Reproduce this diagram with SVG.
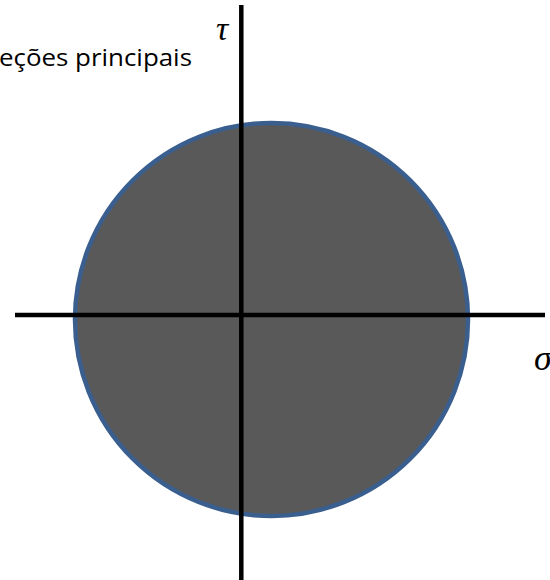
<svg xmlns="http://www.w3.org/2000/svg" width="550" height="580" viewBox="0 0 550 580">
<style>
.axis{stroke:#000;stroke-width:4.5;fill:none}
.lbl{font-family:"Open Sans","Noto Sans",sans-serif;font-size:23px;fill:#000}
.math{font-family:"Liberation Serif","DejaVu Serif",serif;font-style:italic;fill:#000}
</style>
<rect width="550" height="580" fill="#fff"/>
<g id="circle">
<circle cx="271.5" cy="319.5" r="196.5" fill="#595959" stroke="#3a5f8f" stroke-width="4.5"/>
</g>
<g id="axes">
<line class="axis" x1="241.3" y1="5" x2="241.3" y2="580"/>
<line class="axis" x1="15" y1="315" x2="545" y2="315"/>
</g>
<g id="labels">
<text class="lbl" x="-1" y="66" textLength="193" lengthAdjust="spacingAndGlyphs">eções principais</text>
<text class="math" x="216" y="40" font-size="34">τ</text>
<text class="math" x="534" y="370" font-size="36">σ</text>
</g>
</svg>
